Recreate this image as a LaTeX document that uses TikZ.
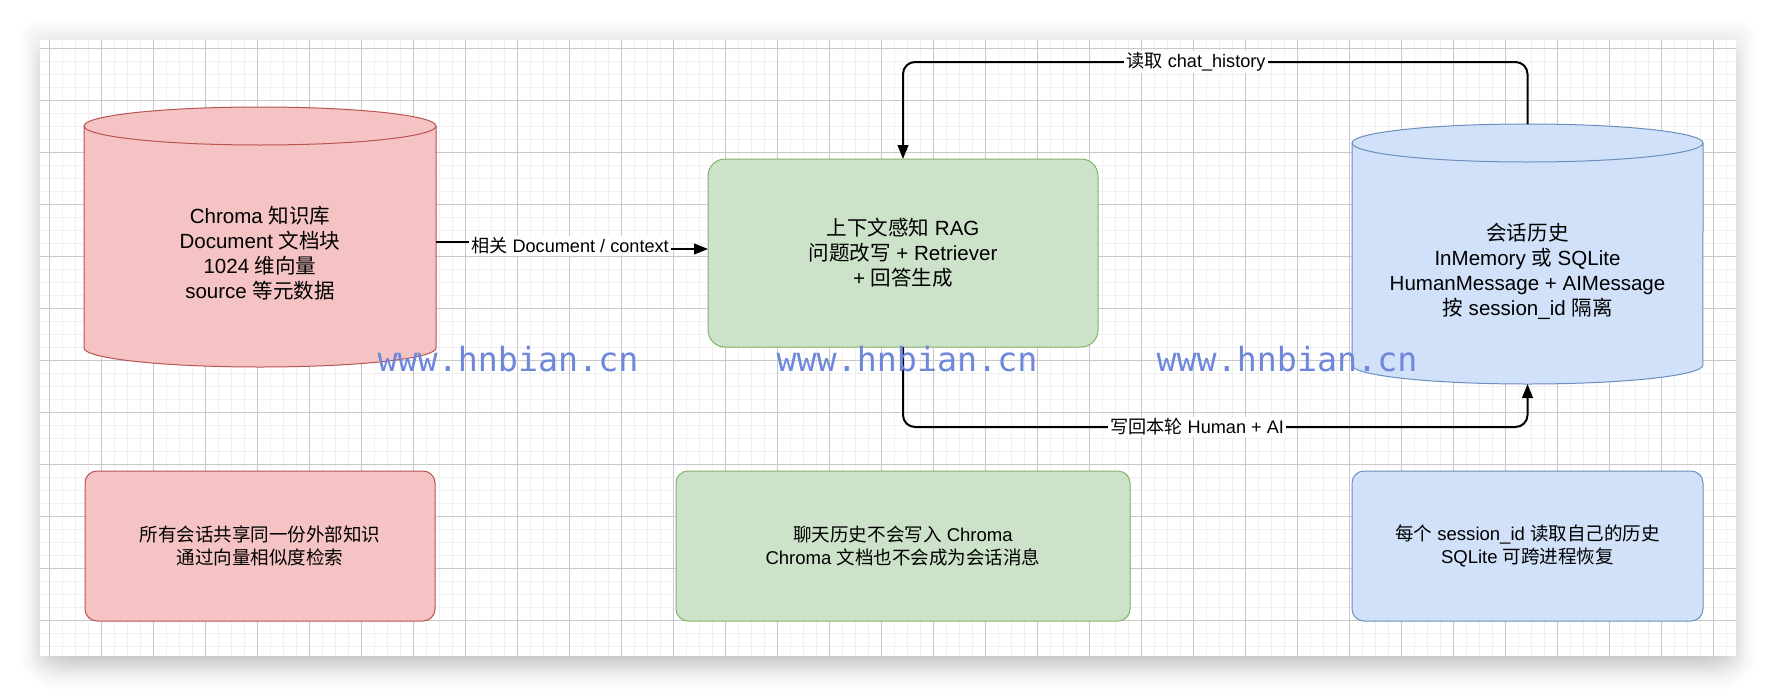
\documentclass[tikz,border=0pt]{standalone}
\usepackage{fontspec}
\setmainfont{Liberation Sans}
\newfontfamily\cjk{Noto Sans CJK SC}
\newfontfamily\wmfont{DejaVu Sans Mono}
\usetikzlibrary{arrows.meta,calc}
\definecolor{redfill}{HTML}{F5C3C3}
\definecolor{redline}{HTML}{B85450}
\definecolor{greenfill}{HTML}{CDE3C9}
\definecolor{greenline}{HTML}{82B366}
\definecolor{bluefill}{HTML}{D1E1F9}
\definecolor{blueline}{HTML}{6C8EBF}
\definecolor{gridminor}{HTML}{F0F0F0}
\definecolor{gridmajor}{HTML}{C8C8C8}
\definecolor{wmblue}{HTML}{6E87DC}
\begin{document}
\begin{tikzpicture}[x=0.75pt,y=-0.75pt,
  anchorbox/.style={inner sep=0pt,outer sep=0pt,draw=none},
  maintext/.style={font=\fontsize{15.4pt}{18.75pt}\selectfont,align=center,inner sep=0pt},
  notebox/.style={rounded corners=9pt,draw,line width=0.75pt,inner sep=0pt,outer sep=0pt,
    minimum height=112.5pt,font=\fontsize{13.9pt}{16.7pt}\selectfont,align=center},
  edge/.style={line width=1.5pt,black,rounded corners=9pt},
  tip/.style={-{Triangle[length=10.5pt,width=8pt]}},
  elabel/.style={fill=white,inner sep=1.5pt,font=\fontsize{13.6pt}{16pt}\selectfont},
  wm/.style={font=\wmfont\fontsize{25pt}{30pt}\selectfont,text=wmblue,anchor=base,inner sep=0pt}]
% page
\fill[white] (0,0) rectangle (1776,696);
\useasboundingbox (0,0) rectangle (1776,696);
% soft shadow: faint halo all round, heavier blur below
\foreach \i in {1,...,20}{
  \fill[black,opacity=0.0022,rounded corners=10pt] ({40-\i},{40-\i}) rectangle ({1736+\i},{656+\i});
}
\foreach \i in {1,...,40}{
  \fill[black,opacity=0.0042,rounded corners=16pt] ({70-\i},{80-\i}) rectangle ({1706+\i},{650+\i});
}
% panel and grid
\fill[white] (40,40) rectangle (1736,656);
\foreach \k in {0,...,129}{\draw[gridminor,line width=1.2pt] ({49.3+13*\k},40) -- ({49.3+13*\k},656);}
\foreach \k in {0,...,46}{\draw[gridminor,line width=1.2pt] (40,{48.3+13*\k}) -- (1736,{48.3+13*\k});}
\foreach \k in {0,...,32}{\draw[gridmajor,line width=0.75pt] ({49.3+52*\k},40) -- ({49.3+52*\k},656);}
\foreach \k in {0,...,11}{\draw[gridmajor,line width=0.75pt] (40,{48.3+52*\k}) -- (1736,{48.3+52*\k});}

% red cylinder: Chroma
\node[anchorbox,minimum width=264pt,minimum height=195pt] (chroma) at (260,237) {};
\filldraw[fill=redfill,draw=redline,line width=0.75pt]
  (84,126) -- (84,348) arc[start angle=180,end angle=360,x radius=132pt,y radius=14.25pt]
  -- (436,126) arc[start angle=0,end angle=180,x radius=132pt,y radius=14.25pt] -- cycle;
\draw[redline,line width=0.75pt] (84,126) arc[start angle=180,end angle=360,x radius=132pt,y radius=14.25pt];
\node[maintext] (chromaT) at (260,253) {Chroma {\cjk 知识库}\\Document {\cjk 文档块}\\1024 {\cjk 维向量}\\source {\cjk 等元数据}};

% blue cylinder: history
\node[anchorbox,minimum width=263.25pt,minimum height=195pt] (hist) at (1527.5,254) {};
\filldraw[fill=bluefill,draw=blueline,line width=0.75pt]
  (1352,143) -- (1352,365) arc[start angle=180,end angle=360,x radius=131.6pt,y radius=14.25pt]
  -- (1703,143) arc[start angle=0,end angle=180,x radius=131.6pt,y radius=14.25pt] -- cycle;
\draw[blueline,line width=0.75pt] (1352,143) arc[start angle=180,end angle=360,x radius=131.6pt,y radius=14.25pt];
\node[maintext] (histT) at (1527.5,271) {{\cjk 会话历史}\\InMemory {\cjk 或} SQLite\\HumanMessage + AIMessage\\{\cjk 按} session\_id {\cjk 隔离}};

% green box: RAG
\node[draw=greenline,fill=greenfill,line width=0.75pt,rounded corners=12.75pt,inner sep=0pt,outer sep=0pt,
  minimum width=292.5pt,minimum height=141pt,maintext] (rag) at (903,253)
  {{\cjk 上下文感知} RAG\\{\cjk 问题改写} + Retriever\\+ {\cjk 回答生成}};

% bottom notes
\node[notebox,draw=redline,fill=redfill,minimum width=262.5pt] (n1) at (260,546)
  {\cjk 所有会话共享同一份外部知识\\\cjk 通过向量相似度检索};
\node[notebox,draw=greenline,fill=greenfill,minimum width=340.5pt] (n2) at (903,546)
  {{\cjk 聊天历史不会写入} Chroma\\Chroma {\cjk 文档也不会成为会话消息}};
\node[notebox,draw=blueline,fill=bluefill,minimum width=263.25pt] (n3) at (1527.5,546)
  {{\cjk 每个} session\_id {\cjk 读取自己的历史}\\SQLite {\cjk 可跨进程恢复}};

% connector: Chroma -> RAG
\node[elabel] (la) at (570,246) {{\cjk 相关} Document / context};
\coordinate (a1) at ([yshift=-3.75pt]chroma.east);
\coordinate (a2) at ([yshift=3pt]rag.west);
\draw[edge] (a1) -- (la.west |- a1);
\draw[edge,tip] (la.east |- a2) -- (a2);

% connector: history -> RAG (top)
\draw[edge,tip] (hist.north) -- (hist.north |- 0,62) -- (rag.north |- 0,62) -- (rag.north);
\node[elabel] (lt) at (1196,62) {{\cjk 读取} chat\_history};

% connector: RAG -> history (bottom)
\draw[edge,tip] (rag.south) -- (rag.south |- 0,427) -- (hist.south |- 0,427) -- (hist.south);
\node[elabel] (lb) at (1197,427) {{\cjk 写回本轮} Human + AI};

% watermarks
\node[wm] (w1) at (508,371) {www.hnbian.cn};
\node[wm] (w2) at (907,371) {www.hnbian.cn};
\node[wm] (w3) at (1287,371) {www.hnbian.cn};
\end{tikzpicture}
\end{document}
